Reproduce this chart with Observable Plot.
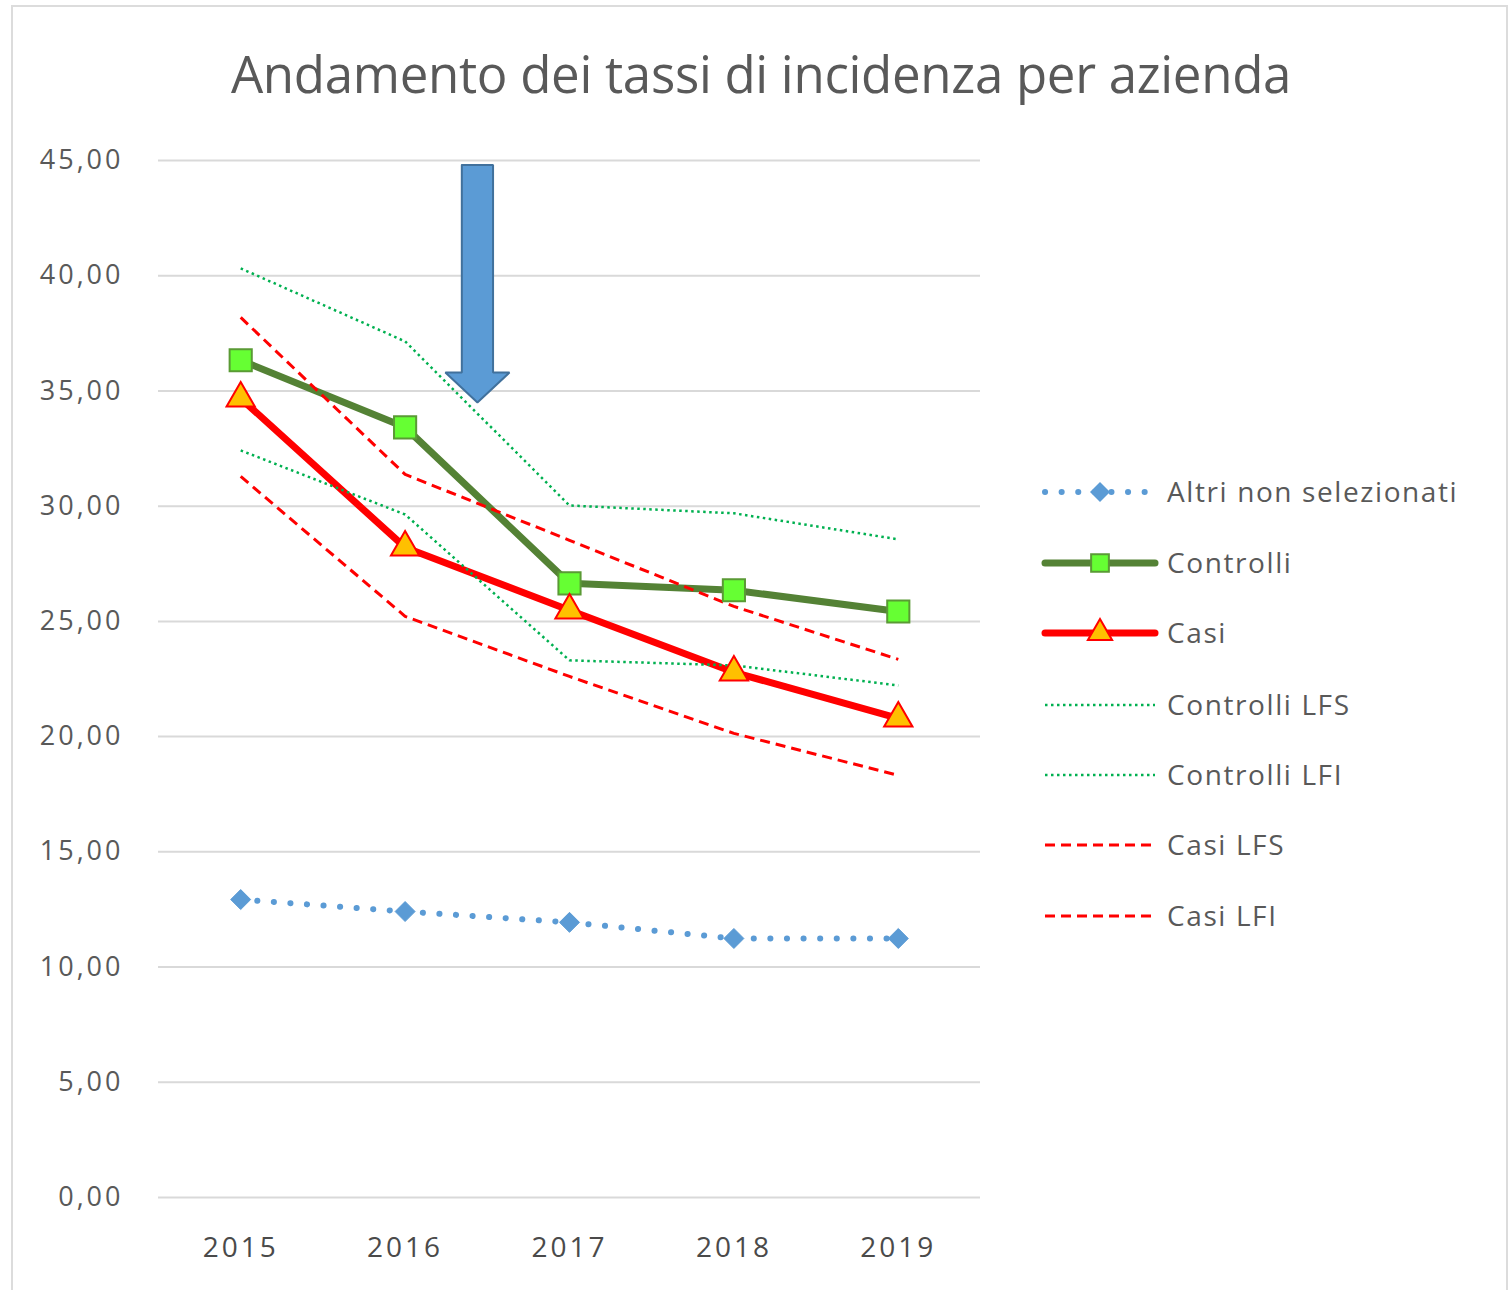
<!DOCTYPE html>
<html>
<head>
<meta charset="utf-8">
<script src="https://cdn.jsdelivr.net/npm/d3@7"></script>
<script src="https://cdn.jsdelivr.net/npm/@observablehq/plot@0.6"></script>
<style>
  html, body { margin: 0; padding: 0; background: #fff; }
  #frame { position: absolute; left: 11px; top: 5px; width: 1497px; height: 1300px;
           border: 2px solid #dcdcdc; box-sizing: border-box; }
  #title { position: absolute; left: 12px; top: 38px; width: 1498px; text-align: center;
           font-family: "Open Sans", sans-serif; font-size: 51px; color: #595959; letter-spacing: -0.3px; }
  #chart { position: absolute; left: 0; top: 130px; }
  #legend { position: absolute; left: 1030px; top: 460px; }
</style>
</head>
<body>
<div id="frame"></div>
<div id="title">Andamento dei tassi di incidenza per azienda</div>
<div id="chart"></div>
<div id="legend"></div>
<script>
// ---- data ----
const years = [2015, 2016, 2017, 2018, 2019];
const altri = [12.93, 12.41, 11.94, 11.24, 11.24];
const controlli = [36.33, 33.42, 26.65, 26.35, 25.43];
const casi = [34.68, 28.21, 25.48, 22.79, 20.79];
const controlliLFS = [40.32, 37.15, 30.03, 29.69, 28.56];
const controlliLFI = [32.42, 29.64, 23.31, 23.09, 22.22];
const casiLFS = [38.19, 31.38, 28.52, 25.65, 23.35];
const casiLFI = [31.29, 25.22, 22.61, 20.14, 18.32];
const yTicks = [0, 5, 10, 15, 20, 25, 30, 35, 40, 45];
const seriesNames = ["Altri non selezionati", "Controlli", "Casi", "Controlli LFS", "Controlli LFI", "Casi LFS", "Casi LFI"];
// annotation arrow (data coordinates): x center, shaft top, head base, tip
const arrowX = 2016.44, arrowTop = 44.8, arrowHeadBase = 35.8, arrowTip = 34.5;
const arrowShaftHalf = 0.095, arrowHeadHalf = 0.195;

// ---- styles ----
const styles = {
  "Altri non selezionati": {stroke: "#5b9bd5", strokeWidth: 6, dash: "0.1 16.5", cap: "round"},
  "Controlli": {stroke: "#548235", strokeWidth: 7, dash: null, cap: "round"},
  "Casi": {stroke: "#ff0000", strokeWidth: 7, dash: null, cap: "round"},
  "Controlli LFS": {stroke: "#00b050", strokeWidth: 2.5, dash: "2.5 3.5", cap: "butt"},
  "Controlli LFI": {stroke: "#00b050", strokeWidth: 2.5, dash: "2.5 3.5", cap: "butt"},
  "Casi LFS": {stroke: "#ff0000", strokeWidth: 3, dash: "10 6", cap: "butt"},
  "Casi LFI": {stroke: "#ff0000", strokeWidth: 3, dash: "10 6", cap: "butt"}
};
const valuesByName = {
  "Altri non selezionati": altri, "Controlli": controlli, "Casi": casi,
  "Controlli LFS": controlliLFS, "Controlli LFI": controlliLFI,
  "Casi LFS": casiLFS, "Casi LFI": casiLFI
};
const rows = name => years.map((yr, i) => ({year: yr, value: valuesByName[name][i], series: name}));

const arrowPts = [
  [arrowX - arrowShaftHalf, arrowTop],
  [arrowX + arrowShaftHalf, arrowTop],
  [arrowX + arrowShaftHalf, arrowHeadBase],
  [arrowX + arrowHeadHalf, arrowHeadBase],
  [arrowX, arrowTip],
  [arrowX - arrowHeadHalf, arrowHeadBase],
  [arrowX - arrowShaftHalf, arrowHeadBase],
  [arrowX - arrowShaftHalf, arrowTop]
];

const fmt = d => d.toFixed(2).replace(".", ",");
const font = "'Open Sans', sans-serif";

const lineMarks = seriesNames.map(name => {
  const s = styles[name];
  return Plot.line(rows(name), {
    x: "year", y: "value", stroke: s.stroke, strokeWidth: s.strokeWidth,
    strokeDasharray: s.dash || undefined, strokeLinecap: s.cap, strokeLinejoin: "round"
  });
});

const chart = Plot.plot({
  width: 1000, height: 1150,
  marginLeft: 158, marginRight: 20, marginTop: 30, marginBottom: 83,
  style: {fontFamily: font, color: "#595959", background: "transparent", overflow: "visible", letterSpacing: "3px"},
  x: {domain: [2014.5, 2019.5], label: null},
  y: {domain: [0, 45], label: null},
  marks: [
    Plot.gridY(yTicks, {stroke: "#d9d9d9", strokeOpacity: 1, strokeWidth: 2}),
    Plot.axisY(yTicks, {tickSize: 0, tickPadding: 35, tickFormat: fmt, fontSize: 27, fill: "#595959", label: null}),
    Plot.axisX(years, {tickSize: 0, tickPadding: 40, tickFormat: d => String(d), fontSize: 28, fill: "#4a4a4a", label: null}),
    ...lineMarks,
    Plot.dot(rows("Altri non selezionati"), {x: "year", y: "value", symbol: "diamond2", r: 9, fill: "#5b9bd5", stroke: "#5b9bd5", strokeWidth: 1}),
    Plot.dot(rows("Controlli"), {x: "year", y: "value", symbol: "square", r: 12.5, fill: "#66ff33", stroke: "#5a9a35", strokeWidth: 2}),
    Plot.dot(rows("Casi"), {x: "year", y: "value", symbol: "triangle", r: 10.5, fill: "#ffc000", stroke: "#ff0000", strokeWidth: 2}),
    Plot.line(arrowPts, {x: d => d[0], y: d => d[1], fill: "#5b9bd5", stroke: "#41719c", strokeWidth: 2, strokeLinejoin: "miter"})
  ]
});
document.getElementById("chart").appendChild(chart);

// ---- legend ----
const rowY = [32, 103, 173, 245, 315, 385, 456];
const lsvg = d3.create("svg").attr("width", 480).attr("height", 500)
  .style("font-family", font);
seriesNames.forEach((name, i) => {
  const s = styles[name];
  const g = lsvg.append("g").attr("transform", `translate(0,${rowY[i]})`);
  g.append("line").attr("x1", 15).attr("x2", 125).attr("y1", 0).attr("y2", 0)
    .attr("stroke", s.stroke).attr("stroke-width", s.strokeWidth)
    .attr("stroke-dasharray", s.dash).attr("stroke-linecap", s.cap);
  if (name === "Altri non selezionati") {
    g.append("path").attr("d", d3.symbol(d3.symbolDiamond2, Math.PI * 9 * 9)()).attr("transform", "translate(70,0)").attr("fill", "#5b9bd5");
  } else if (name === "Controlli") {
    g.append("path").attr("d", d3.symbol(d3.symbolSquare, Math.PI * 10 * 10)()).attr("transform", "translate(70,0)").attr("fill", "#66ff33").attr("stroke", "#5a9a35").attr("stroke-width", 2);
  } else if (name === "Casi") {
    g.append("path").attr("d", d3.symbol(d3.symbolTriangle, Math.PI * 9 * 9)()).attr("transform", "translate(70,0)").attr("fill", "#ffc000").attr("stroke", "#ff0000").attr("stroke-width", 2);
  }
  g.append("text").attr("x", 137).attr("y", 0).attr("dy", "0.35em")
    .attr("font-size", 28).attr("fill", "#595959").attr("letter-spacing", "1.6px").text(name);
});
document.getElementById("legend").appendChild(lsvg.node());
</script>
</body>
</html>
